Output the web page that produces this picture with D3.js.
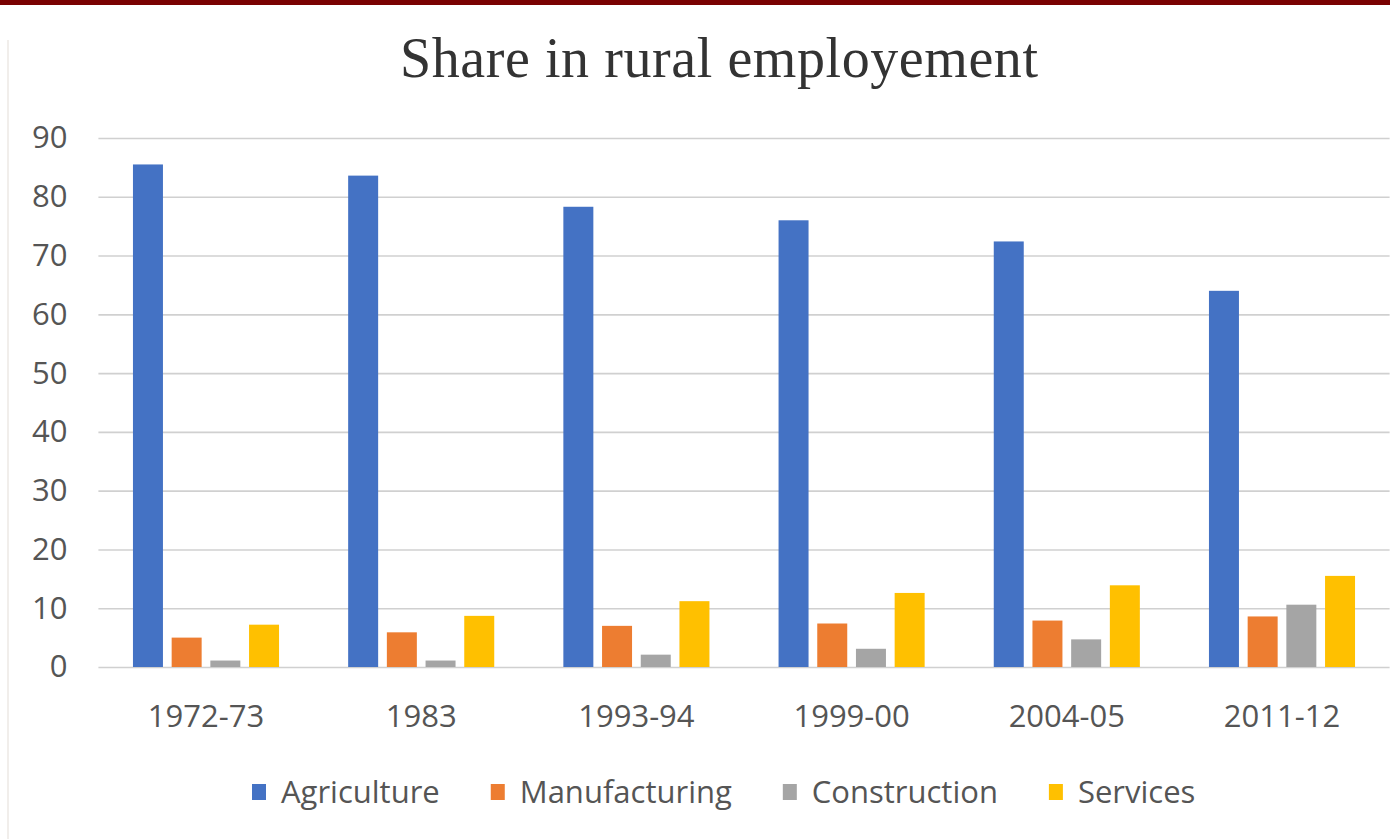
<!DOCTYPE html>
<html>
<head>
<meta charset="utf-8">
<script src="https://cdn.jsdelivr.net/npm/d3@7"></script>
<style>
  html, body { margin: 0; padding: 0; background: #ffffff; }
  svg { display: block; }
</style>
</head>
<body>
<svg id="chart" width="1390" height="839"></svg>
<script>
// Periods on the x axis
const periods = ["1972-73", "1983", "1993-94", "1999-00", "2004-05", "2011-12"];
// Sectors (one bar each per period)
const sectors = ["Agriculture", "Manufacturing", "Construction", "Services"];
// Share of rural employment, % by sector
const agriculture   = [85.5, 83.6, 78.3, 76.0, 72.4, 64.0];
const manufacturing = [5.0, 5.9, 7.0, 7.4, 7.9, 8.6];
const construction  = [1.1, 1.1, 2.1, 3.1, 4.7, 10.6];
const services      = [7.2, 8.7, 11.2, 12.6, 13.9, 15.5];
const yTicks = [0, 10, 20, 30, 40, 50, 60, 70, 80, 90];
const titleText = "Share in rural employement";

const seriesValues = { Agriculture: agriculture, Manufacturing: manufacturing, Construction: construction, Services: services };
const colors = { Agriculture: "#4472C4", Manufacturing: "#ED7D31", Construction: "#A5A5A5", Services: "#FFC000" };

const svg = d3.select("#chart");
const W = 1390, H = 839;

// dark header band
svg.append("rect").attr("x", 0).attr("y", 0).attr("width", W).attr("height", 5).attr("fill", "#7a0202");
// faint page edge on the left
svg.append("line").attr("x1", 8).attr("x2", 8).attr("y1", 40).attr("y2", H)
  .attr("stroke", "#f1eeeb").attr("stroke-width", 2);

// title
svg.append("text")
  .attr("x", 719).attr("y", 77)
  .attr("text-anchor", "middle")
  .attr("font-family", "'Liberation Serif', 'DejaVu Serif', serif")
  .attr("font-size", 56)
  .attr("fill", "#333333")
  .attr("textLength", 638)
  .attr("lengthAdjust", "spacing")
  .text(titleText);

// scales
const x0 = d3.scaleBand().domain(periods).range([98.4, 1389.6]).padding(0);
const x1 = d3.scaleBand().domain(sectors).range([0, x0.bandwidth()])
  .paddingInner(0.225).paddingOuter(0.893);
const y = d3.scaleLinear().domain([0, 90]).range([667, 138]);

const fontSans = "'Open Sans', 'Noto Sans', sans-serif";
const textColor = "#555555";

// gridlines
const grid = svg.append("g")
  .attr("transform", "translate(98.4,0)")
  .call(d3.axisLeft(y).tickValues(yTicks).tickSize(-(x0.range()[1] - 98.4)).tickFormat(""));
grid.select(".domain").remove();
grid.selectAll(".tick line").attr("stroke", "#d0d0d0").attr("stroke-width", 1.6);

// y axis labels
const yAxis = svg.append("g")
  .attr("transform", "translate(98.4,0)")
  .call(d3.axisLeft(y).tickValues(yTicks).tickSize(0).tickPadding(31));
yAxis.select(".domain").remove();
yAxis.selectAll("text")
  .attr("font-family", fontSans).attr("font-size", 31).attr("fill", textColor);

// bars
const groups = svg.append("g").selectAll("g")
  .data(periods)
  .join("g")
  .attr("transform", d => `translate(${x0(d)},0)`);

groups.selectAll("rect")
  .data((p, i) => sectors.map(s => ({ sector: s, value: seriesValues[s][i] })))
  .join("rect")
  .attr("x", d => x1(d.sector))
  .attr("width", x1.bandwidth())
  .attr("y", d => y(d.value))
  .attr("height", d => y(0) - y(d.value))
  .attr("fill", d => colors[d.sector]);

// x axis labels
const xAxis = svg.append("g")
  .attr("transform", `translate(0,${y(0)})`)
  .call(d3.axisBottom(x0).tickSize(0).tickPadding(38));
xAxis.select(".domain").remove();
xAxis.selectAll("text")
  .attr("font-family", fontSans).attr("font-size", 31).attr("fill", textColor);

// legend
const legend = svg.append("g").attr("transform", "translate(252,792)");
let lx = 0;
sectors.forEach(s => {
  const item = legend.append("g").attr("transform", `translate(${lx},0)`);
  item.append("rect").attr("x", 0).attr("y", -8).attr("width", 14).attr("height", 16).attr("fill", colors[s]);
  const t = item.append("text")
    .attr("x", 29).attr("y", 0).attr("dy", "0.35em")
    .attr("font-family", fontSans).attr("font-size", 31).attr("fill", textColor)
    .text(s);
  lx += 29 + t.node().getComputedTextLength() + 51;
});
</script>
</body>
</html>
